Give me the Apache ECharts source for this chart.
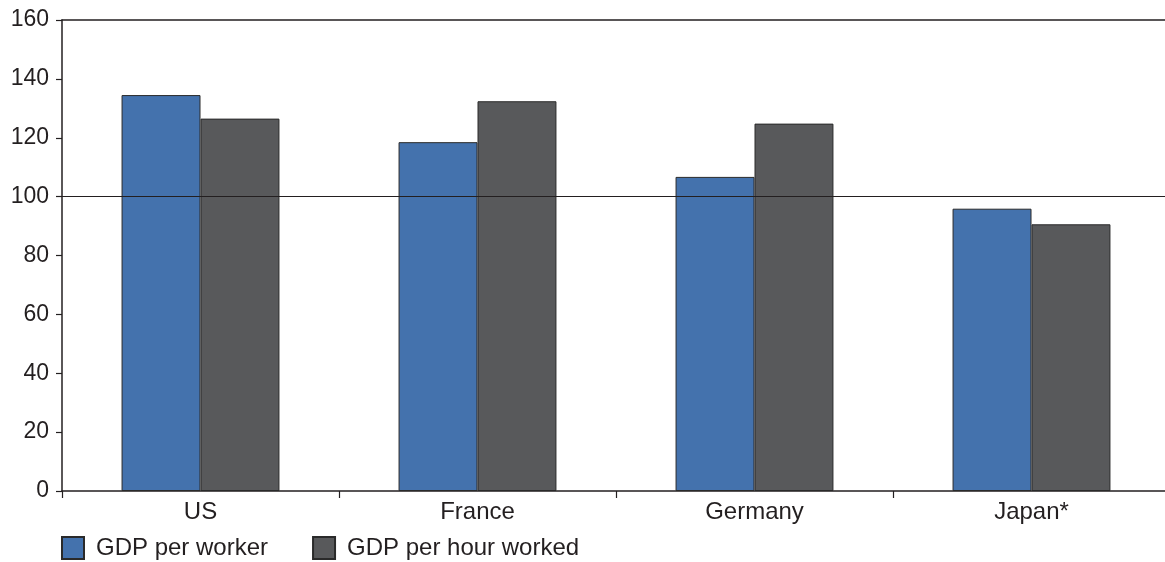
<!DOCTYPE html>
<html>
<head>
<meta charset="utf-8">
<script src="https://cdn.jsdelivr.net/npm/echarts@6/dist/echarts.min.js"></script>
<style>
  html, body { margin: 0; padding: 0; background: #fff; overflow: hidden; }
  /* plot area runs slightly past the right edge of the window */
  #chart { width: 1170px; height: 562px; }
</style>
</head>
<body>
<div id="chart"></div>
<script>
// Productivity levels (index) by country
const categories = ['US', 'France', 'Germany', 'Japan*'];
const gdpPerWorker = [134.5, 118.5, 106.7, 95.9];
const gdpPerHour = [126.5, 132.4, 124.8, 90.6];
const yTicks = [0, 20, 40, 60, 80, 100, 120, 140, 160];

const FONT = 'Liberation Sans';
const TEXT = '#231f20';

const chart = echarts.init(document.getElementById('chart'), null, { renderer: 'canvas' });

const barStyle = (color) => ({
  color: color,
  borderColor: '#2a2a2a',
  borderWidth: 1
});

chart.setOption({
  animation: false,
  backgroundColor: '#ffffff',
  textStyle: { fontFamily: FONT },
  grid: { left: 62, top: 20, right: 0, bottom: 71, containLabel: false },
  legend: {
    left: 61,
    top: 536,
    itemWidth: 22,
    itemHeight: 22,
    itemGap: 44,
    icon: 'rect',
    padding: 0,
    textStyle: { fontFamily: FONT, fontSize: 24, color: TEXT, padding: [0, 0, 0, 7] },
    data: ['GDP per worker', 'GDP per hour worked']
  },
  xAxis: [{
    type: 'category',
    data: categories,
    boundaryGap: true,
    axisLine: { show: true, lineStyle: { color: '#231f20', width: 1.5 } },
    axisTick: { show: true, alignWithLabel: false, length: 7, lineStyle: { color: '#231f20', width: 1.2 } },
    axisLabel: { fontFamily: FONT, fontSize: 24, color: TEXT, margin: 9 },
    splitLine: { show: false }
  }, {
    // top frame line at 160
    type: 'category',
    position: 'top',
    data: categories,
    axisLine: { show: true, lineStyle: { color: '#231f20', width: 1.5 } },
    axisTick: { show: false },
    axisLabel: { show: false }
  }],
  yAxis: {
    type: 'value',
    min: yTicks[0],
    max: yTicks[yTicks.length - 1],
    interval: 20,
    axisLine: { show: true, lineStyle: { color: '#231f20', width: 1.5 } },
    axisTick: { show: true, length: 6, lineStyle: { color: '#231f20', width: 1.2 } },
    axisLabel: { fontFamily: FONT, fontSize: 23, color: TEXT, margin: 13 },
    splitLine: { show: false }
  },
  series: [{
    name: 'GDP per worker',
    type: 'bar',
    data: gdpPerWorker,
    barGap: '0%',
    barCategoryGap: '43%',
    itemStyle: barStyle('#4472ad'),
    markLine: {
      silent: true,
      symbol: 'none',
      label: { show: false },
      lineStyle: { color: '#231f20', width: 1.2, type: 'solid' },
      data: [{ yAxis: 100 }],
      z: 10
    }
  }, {
    name: 'GDP per hour worked',
    type: 'bar',
    data: gdpPerHour,
    itemStyle: barStyle('#58595b')
  }]
});
</script>
</body>
</html>
